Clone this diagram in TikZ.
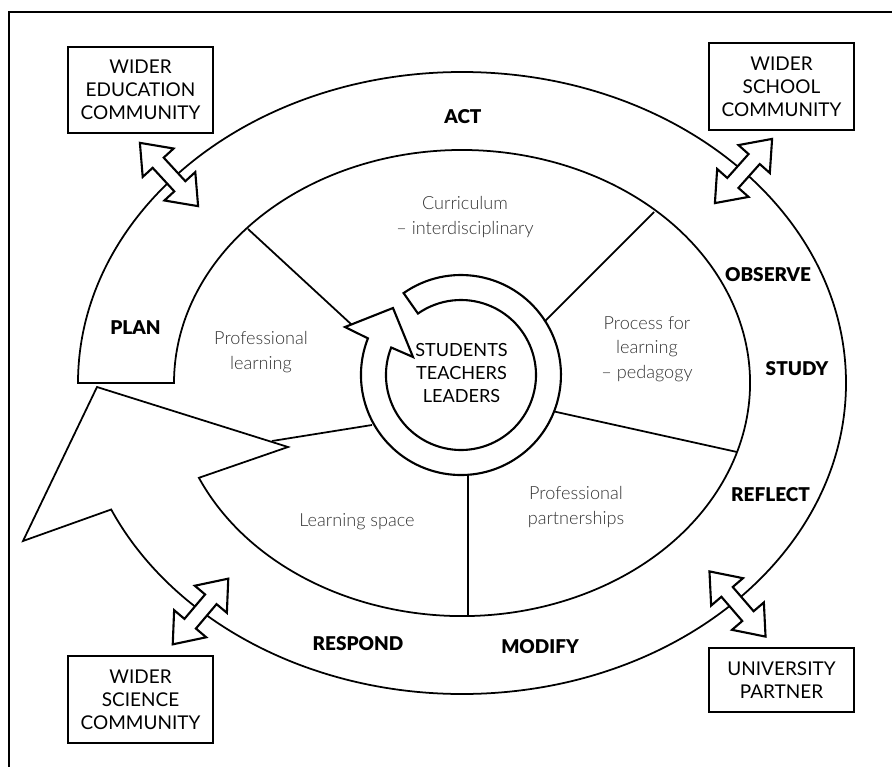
\documentclass[tikz,border=0pt]{standalone}
\usepackage{fontspec}
\setmainfont{Lato}
\newfontfamily\lightfont{Lato Light}
\newfontfamily\heavyfont{Lato Black}
\usetikzlibrary{positioning}

\begin{document}
\begin{tikzpicture}[x=0.02cm, y=-0.02cm,
    band/.style={draw, fill=white, line width=1pt, line join=miter},
    ring/.style={draw, fill=white, line width=1.2pt, line join=miter},
    divider/.style={line width=1pt},
    commbox/.style={draw, line width=1.1pt, minimum width=2.9cm, align=center, inner sep=2pt,
        font=\fontsize{10.8}{13.2}\selectfont},
    stage/.style={font=\heavyfont\fontsize{10.8}{12}\selectfont},
    area/.style={align=center, text=black!80, font=\lightfont\fontsize{10.3}{13.8}\selectfont},
    twoway/.pic={\draw[fill=white, line width=1.2pt] (-43,0) -- (-16,21) -- (-16,7.5) -- (16,7.5)
        -- (16,21) -- (43,0) -- (16,-21) -- (16,-7.5) -- (-16,-7.5) -- (-16,-21) -- cycle;}]
    \useasboundingbox (0,0) rectangle (892,767);

    % frame
    \draw[line width=1.4pt] (892,12) -- (9,12) -- (9,767);

    % dividers between the five areas
    \draw[divider] (248,229) -- (352,325);
    \draw[divider] (654,212) -- (544,322);
    \draw[divider] (552,411) -- (737,452);
    \draw[divider] (468,474) -- (468,617);
    \draw[divider] (372,425) -- (272,441);

    % outer cycle arrow
    \draw[band] (78,383) arc[start angle=180, end angle=516, x radius=384, y radius=311]
        -- (23,541) -- (97,387) -- (288,447) -- (198.9,477.8)
        arc[start angle=516, end angle=180, x radius=288, y radius=233] -- cycle;

    % inner ring arrow
    \draw[ring] (403.6,293.1) arc[start angle=235, end angle=561.5, radius=100]
        -- (345,327) -- (393,308) -- (413,357) -- (391.2,347.5)
        arc[start angle=561.5, end angle=235, radius=75] -- cycle;

    % two-way arrows to the communities
    \pic[rotate=-47.4] at (169,174.5) {twoway};
    \pic[rotate=48.3] at (743.5,171) {twoway};
    \pic[rotate=49.8] at (200.5,611.5) {twoway};
    \pic[rotate=-49.3] at (737.5,604) {twoway};

    % communities
    \node[commbox, minimum height=1.72cm] (edu) at (140.5,90) {WIDER\\EDUCATION\\COMMUNITY};
    \node[commbox, minimum height=1.74cm] (school) at (781.5,86.5) {WIDER\\SCHOOL\\COMMUNITY};
    \node[commbox, minimum height=1.74cm] (science) at (140.5,699.5) {WIDER\\SCIENCE\\COMMUNITY};
    \node[commbox, minimum height=1.28cm] (uni) at (781.5,680) {UNIVERSITY\\PARTNER};

    % stages of the cycle
    \node[stage] (act) at (463,117) {ACT};
    \node[stage] (plan) at (135.5,328) {PLAN};
    \node[stage] (observe) at (768,275) {OBSERVE};
    \node[stage] (study) at (797,368.5) {STUDY};
    \node[stage] (reflect) at (770.5,494.5) {REFLECT};
    \node[stage] (modify) at (540,647) {MODIFY};
    \node[stage] (respond) at (358,643.5) {RESPOND};

    % areas
    \node[area] (curric) at (465,217) {Curriculum\\– interdisciplinary};
    \node[area] (proflearn) at (261,352) {Professional\\learning};
    \node[area] (process) at (647,349) {Process for\\learning\\– pedagogy};
    \node[area] (partners) at (576,507) {Professional\\partnerships};
    \node[area] (space) at (357,522) {Learning space};

    % centre
    \node[align=center, font=\fontsize{10.3}{13.3}\selectfont] (people) at (461.5,373) {STUDENTS\\TEACHERS\\LEADERS};
\end{tikzpicture}
\end{document}
